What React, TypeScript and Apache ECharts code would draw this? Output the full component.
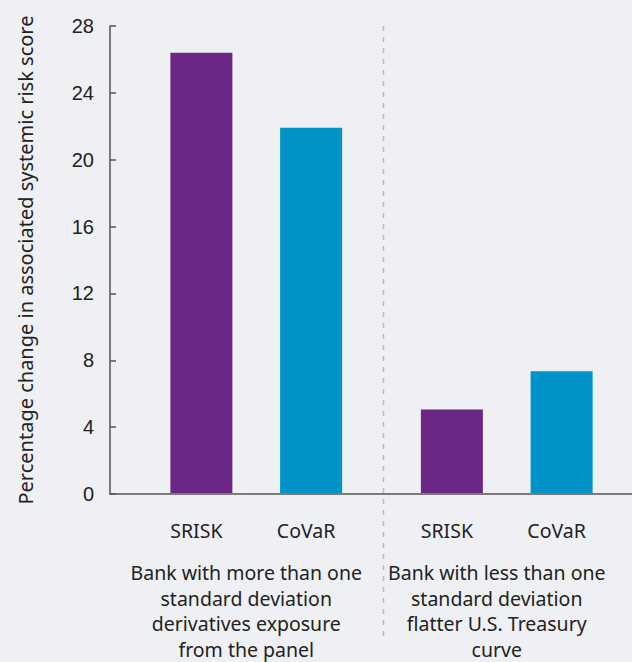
import React, { useEffect, useRef } from "react";
import * as echarts from "echarts";

const groups = [
  "Bank with more than one\nstandard deviation\nderivatives exposure\nfrom the panel",
  "Bank with less than one\nstandard deviation\nflatter U.S. Treasury\ncurve",
];
const seriesNames = ["SRISK", "CoVaR"];
const srisk = [26.4, 5.0];
const covar = [21.9, 7.3];
const yMin = 0;
const yMax = 28;
const yInterval = 4;
const yTitle = "Percentage change in associated systemic risk score";

const TEXT = "#222222";
const FONT = "Noto Sans";

export default function App() {
  const ref = useRef<HTMLDivElement>(null);
  useEffect(() => {
    if (!ref.current) return;
    const chart = echarts.init(ref.current, null, { renderer: "svg" });
    const barLabel = (name: string) => ({
      show: true,
      position: "bottom",
      distance: 27,
      offset: [-5, 0],
      formatter: name,
      color: TEXT,
      fontFamily: FONT,
      fontSize: 19.5,
    });
    chart.setOption({
      animation: false,
      backgroundColor: "#eef0f3",
      grid: [
        { left: 131, right: -4, top: 26, bottom: 168 },
        { left: 110, right: 0, top: 26, bottom: 168 },
      ],
      xAxis: [
        {
          type: "category",
          gridIndex: 0,
          data: groups,
          axisLine: { show: false },
          axisTick: { show: false },
          axisLabel: {
            margin: 67,
            color: TEXT,
            fontFamily: FONT,
            fontSize: 19.5,
            lineHeight: 25.5,
            align: "center",
            padding: [0, 20, 0, 0],
            interval: 0,
          },
        },
        {
          type: "category",
          gridIndex: 1,
          data: ["", ""],
          axisLine: { show: true, lineStyle: { color: "#555555", width: 1.5 } },
          axisTick: { show: false },
          axisLabel: { show: false },
          z: 10,
        },
      ],
      yAxis: [
        {
          type: "value",
          gridIndex: 0,
          min: yMin,
          max: yMax,
          interval: yInterval,
          show: false,
        },
        {
          type: "value",
          gridIndex: 1,
          min: yMin,
          max: yMax,
          interval: yInterval,
          name: yTitle,
          nameLocation: "middle",
          nameRotate: 90,
          nameGap: 75,
          nameTextStyle: { color: TEXT, fontFamily: FONT, fontSize: 20 },
          axisLine: { show: true, lineStyle: { color: "#555555", width: 1.5 } },
          axisTick: { show: true, inside: true, length: 6, lineStyle: { color: "#555555", width: 1.5 } },
          axisLabel: {
            margin: 16,
            color: TEXT,
            fontFamily: "Liberation Sans",
            fontSize: 20,
          },
          splitLine: { show: false },
        },
      ],
      series: [
        {
          name: seriesNames[0],
          type: "bar",
          xAxisIndex: 0,
          yAxisIndex: 0,
          data: srisk,
          barWidth: 62,
          itemStyle: { color: "#6b2785" },
          label: barLabel(seriesNames[0]),
        },
        {
          name: seriesNames[1],
          type: "bar",
          xAxisIndex: 0,
          yAxisIndex: 0,
          data: covar,
          barWidth: 62,
          barGap: "77%",
          itemStyle: { color: "#0093c9" },
          label: barLabel(seriesNames[1]),
        },
      ],
      graphic: [
        {
          type: "line",
          shape: { x1: 383.5, y1: 26, x2: 383.5, y2: 640 },
          style: { stroke: "#b8b8b8", lineWidth: 1.5, lineDash: [5, 6] },
          z: 0,
        },
      ],
    });
    return () => chart.dispose();
  }, []);
  return (
    <div
      ref={ref}
      style={{ position: "fixed", left: 0, top: 0, width: 632, height: 662 }}
    />
  );
}
